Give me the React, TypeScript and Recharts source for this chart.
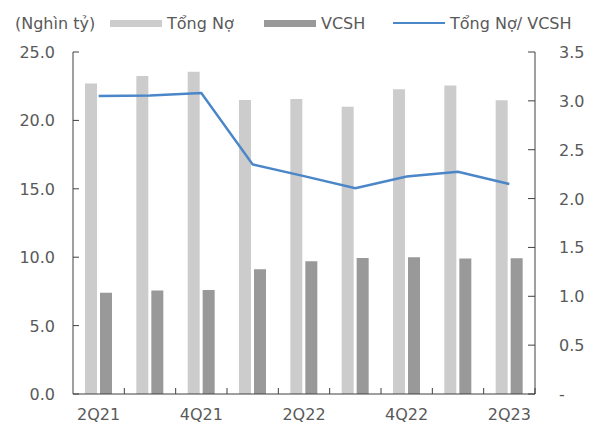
import { ComposedChart, Bar, Line, XAxis, YAxis, Legend } from 'recharts';

const quarters = ['2Q21', '3Q21', '4Q21', '1Q22', '2Q22', '3Q22', '4Q22', '1Q23', '2Q23'];
const tongNo = [22.7, 23.25, 23.55, 21.5, 21.57, 21.0, 22.27, 22.56, 21.47];
const vcsh = [7.4, 7.57, 7.6, 9.12, 9.7, 9.94, 10.0, 9.9, 9.92];
const ratio = [3.05, 3.055, 3.08, 2.35, 2.23, 2.105, 2.225, 2.275, 2.15];
const leftTicks = [0, 5, 10, 15, 20, 25];
const rightTicks = [0, 0.5, 1, 1.5, 2, 2.5, 3, 3.5];

const data = quarters.map((q, i) => ({
    quarter: q,
    tongNo: tongNo[i],
    vcsh: vcsh[i],
    ratio: ratio[i],
}));

const FONT = '"DejaVu Sans", sans-serif';
const TEXT = '#595959';
const AXIS = '#404040';
const LIGHT = '#cccccc';
const DARK = '#999999';
const BLUE = '#4a86c8';

const PLOT_LEFT = 73;
const PLOT_RIGHT = 535;
const BAND = (PLOT_RIGHT - PLOT_LEFT) / quarters.length;

const XTick = (props: any) => {
    const { x, y, payload, index } = props;
    const axisY = y - 14;
    const edge = x + BAND / 2;
    return (
        <g>
            <line x1={edge} x2={edge} y1={axisY} y2={axisY - 6} stroke={AXIS} />
            {index % 2 === 0 && (
                <text x={x} y={axisY + 26} textAnchor="middle" fill={TEXT} fontSize={16} fontFamily={FONT}>
                    {payload.value}
                </text>
            )}
        </g>
    );
};

const LeftTick = (props: any) => {
    const { x, y, payload } = props;
    const axisX = x + 18;
    return (
        <g>
            <line x1={axisX} x2={axisX + 6} y1={y} y2={y} stroke={AXIS} />
            <text x={x} y={y + 6} textAnchor="end" fill={TEXT} fontSize={16} fontFamily={FONT}>
                {payload.value.toFixed(1)}
            </text>
        </g>
    );
};

const RightTick = (props: any) => {
    const { x, y, payload } = props;
    const axisX = x - 24;
    return (
        <g>
            <line x1={axisX - 7} x2={axisX} y1={y} y2={y} stroke={AXIS} />
            <text x={x} y={y + 6} textAnchor="start" fill={TEXT} fontSize={16} fontFamily={FONT}>
                {payload.value === 0 ? '-' : payload.value.toFixed(1)}
            </text>
        </g>
    );
};

// legend row with the unit label in front, like the excel original
const TopLegend = () => {
    const item = { position: 'absolute' as const, top: 0, display: 'flex', alignItems: 'center', height: 22 };
    const label = { marginLeft: 5, whiteSpace: 'nowrap' as const };
    return (
        <div style={{ position: 'relative', width: 592, height: 40, fontFamily: FONT, fontSize: 16, color: TEXT }}>
            <div style={{ ...item, left: 15 }}>(Nghìn tỷ)</div>
            <div style={{ ...item, left: 110 }}>
                <span style={{ width: 52, height: 7, background: LIGHT }} />
                <span style={label}>Tổng Nợ</span>
            </div>
            <div style={{ ...item, left: 264 }}>
                <span style={{ width: 52, height: 7, background: DARK }} />
                <span style={label}>VCSH</span>
            </div>
            <div style={{ ...item, left: 393 }}>
                <span style={{ width: 52, height: 2.5, background: BLUE }} />
                <span style={label}>Tổng Nợ/ VCSH</span>
            </div>
        </div>
    );
};

const App = () => {
    return (
        <div style={{ position: 'absolute', left: 0, top: 0, width: 592, height: 430, background: '#fff' }}>
            <ComposedChart
                width={592}
                height={430}
                data={data}
                margin={{ top: 12, right: 0, bottom: 0, left: 0 }}
                barSize={12}
                barGap={3}
            >
                <Legend verticalAlign="top" align="left" content={<TopLegend />} wrapperStyle={{ top: 12, left: 0 }} />
                <XAxis
                    dataKey="quarter"
                    height={36}
                    interval={0}
                    tickSize={0}
                    tickMargin={14}
                    tick={<XTick />}
                    stroke={AXIS}
                />
                <YAxis
                    yAxisId="left"
                    width={73}
                    domain={[0, 25]}
                    ticks={leftTicks}
                    tickSize={0}
                    tickMargin={18}
                    tick={<LeftTick />}
                    stroke={AXIS}
                />
                <YAxis
                    yAxisId="right"
                    orientation="right"
                    width={57}
                    domain={[0, 3.5]}
                    ticks={rightTicks}
                    tickSize={0}
                    tickMargin={24}
                    tick={<RightTick />}
                    stroke={AXIS}
                />
                <Bar yAxisId="left" dataKey="tongNo" name="Tổng Nợ" fill={LIGHT} isAnimationActive={false} />
                <Bar yAxisId="left" dataKey="vcsh" name="VCSH" fill={DARK} isAnimationActive={false} />
                <Line
                    yAxisId="right"
                    dataKey="ratio"
                    name="Tổng Nợ/ VCSH"
                    stroke={BLUE}
                    strokeWidth={2.5}
                    dot={false}
                    activeDot={false}
                    type="linear"
                    isAnimationActive={false}
                />
            </ComposedChart>
        </div>
    );
};

export default App;
